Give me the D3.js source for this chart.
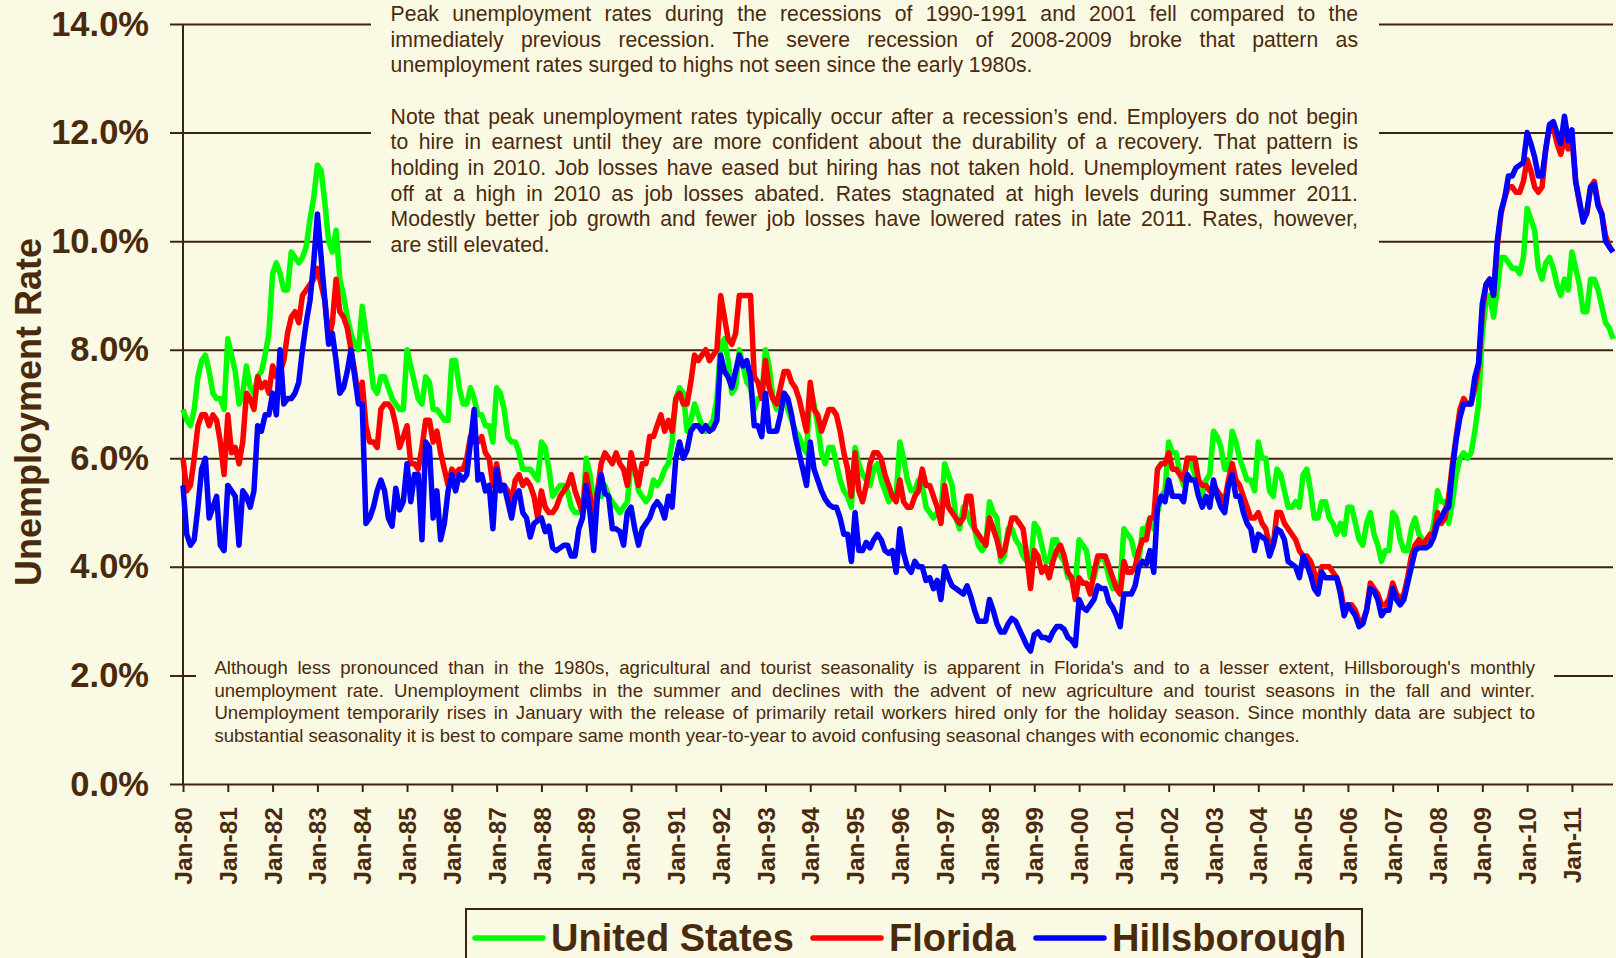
<!DOCTYPE html>
<html>
<head>
<meta charset="UTF-8">
<title>Unemployment Rate</title>
<script src="https://cdn.jsdelivr.net/npm/d3@7"></script>
<style>
	body { margin: 0; background: #FAF9E3; }
	svg { display: block; }
	text { font-family: "Liberation Sans", Arial, sans-serif; fill: #4A2A0C; }
</style>
</head>
<body>
<svg id="chart" width="1616" height="958"></svg>
<script>
var seriesNames = ["United States", "Florida", "Hillsborough"];
var seriesColors = ["#00FF00", "#FF0000", "#0000FF"];
var yTicks = [0, 2, 4, 6, 8, 10, 12, 14];
var tickLabels = ["Jan-80","Jan-81","Jan-82","Jan-83","Jan-84","Jan-85","Jan-86","Jan-87","Jan-88","Jan-89",
	"Jan-90","Jan-91","Jan-92","Jan-93","Jan-94","Jan-95","Jan-96","Jan-97","Jan-98","Jan-99",
	"Jan-00","Jan-01","Jan-02","Jan-03","Jan-04","Jan-05","Jan-06","Jan-07","Jan-08","Jan-09","Jan-10","Jan-11"];

// monthly rates, Jan-80 .. Dec-11, one row per year
var usRate = [
	6.9,6.7,6.6,6.9,7.5,7.8,7.9,7.6,7.2,7.1,7.1,6.9,
	8.2,7.9,7.6,7.0,7.2,7.7,7.3,7.2,7.5,7.6,7.9,8.3,
	9.4,9.6,9.4,9.1,9.1,9.8,9.7,9.6,9.7,9.9,10.4,10.8,
	11.4,11.3,10.7,10.0,9.8,10.2,9.3,9.0,8.6,8.3,8.1,8.0,
	8.8,8.3,7.9,7.3,7.2,7.5,7.5,7.3,7.1,7.0,6.9,6.9,
	8.0,7.7,7.4,7.1,7.0,7.5,7.4,6.9,6.9,6.8,6.7,6.7,
	7.8,7.8,7.3,7.0,7.0,7.3,7.1,6.8,6.8,6.6,6.6,6.3,
	7.3,7.2,6.9,6.4,6.3,6.3,6.1,5.8,5.8,5.8,5.7,5.6,
	6.3,6.2,5.8,5.3,5.4,5.5,5.5,5.4,5.1,5.0,5.0,5.0,
	6.0,5.7,5.2,5.3,5.3,5.5,5.3,5.2,5.1,5.0,5.1,5.2,
	5.9,5.8,5.4,5.3,5.2,5.3,5.6,5.5,5.6,5.8,5.9,6.3,
	7.1,7.3,7.2,6.5,6.7,7.0,6.8,6.6,6.5,6.6,6.7,7.1,
	8.1,8.2,7.8,7.2,7.3,8.0,7.7,7.4,7.3,6.9,7.1,7.1,
	8.0,7.7,7.1,6.9,6.9,7.1,6.9,6.7,6.5,6.4,6.2,6.1,
	7.3,7.0,6.6,6.1,5.9,6.2,6.2,5.9,5.6,5.4,5.3,5.1,
	6.2,5.9,5.7,5.6,5.5,5.8,5.9,5.6,5.4,5.2,5.3,5.3,
	6.3,6.0,5.6,5.4,5.4,5.6,5.5,5.1,5.0,4.9,5.0,5.0,
	5.9,5.7,5.5,4.9,4.7,5.1,5.0,4.8,4.7,4.4,4.3,4.4,
	5.2,5.0,4.9,4.1,4.2,4.7,4.7,4.5,4.4,4.2,4.1,4.0,
	4.8,4.7,4.4,4.1,4.1,4.5,4.5,4.2,4.1,3.8,3.8,3.7,
	4.5,4.4,4.3,3.8,3.8,4.1,4.2,4.1,3.8,3.6,3.7,3.7,
	4.7,4.6,4.5,4.2,4.1,4.7,4.7,4.9,4.7,5.0,5.3,5.4,
	6.3,6.1,6.1,5.7,5.5,6.0,5.9,5.7,5.4,5.3,5.6,5.7,
	6.5,6.4,6.2,5.8,5.8,6.5,6.3,6.0,5.8,5.6,5.6,5.4,
	6.3,6.0,6.0,5.4,5.3,5.8,5.7,5.4,5.1,5.1,5.2,5.1,
	5.7,5.8,5.4,4.9,4.9,5.2,5.2,4.9,4.8,4.6,4.8,4.6,
	5.1,5.1,4.8,4.5,4.4,4.8,5.0,4.6,4.4,4.1,4.3,4.3,
	5.0,4.9,4.5,4.3,4.3,4.7,4.9,4.6,4.5,4.4,4.5,4.8,
	5.4,5.2,5.2,4.8,5.2,5.7,6.0,6.1,6.0,6.1,6.5,7.0,
	8.3,8.9,9.0,8.6,9.1,9.7,9.7,9.6,9.5,9.5,9.4,9.7,
	10.6,10.4,10.2,9.5,9.3,9.6,9.7,9.5,9.2,9.0,9.3,9.1,
	9.8,9.5,9.2,8.7,8.7,9.3,9.3,9.1,8.8,8.5,8.4,8.2
];
var flRate = [
	6.0,5.4,5.5,6.0,6.6,6.8,6.8,6.6,6.8,6.7,6.3,5.7,
	6.8,6.1,6.2,5.9,6.3,7.2,7.1,6.9,7.5,7.3,7.4,7.2,
	7.7,7.5,7.6,7.8,8.3,8.6,8.7,8.5,9.0,9.1,9.2,9.3,
	9.5,9.2,8.9,8.2,8.5,9.3,8.7,8.6,8.4,8.0,7.6,7.1,
	7.4,6.6,6.3,6.3,6.2,6.9,7.0,7.0,6.9,6.6,6.2,6.4,
	6.6,5.9,5.9,5.8,6.2,6.7,6.7,6.3,6.5,6.1,5.8,5.5,
	5.8,5.7,5.8,5.8,6.0,6.4,6.3,6.3,6.4,6.1,6.0,5.5,
	5.9,5.5,5.5,5.4,5.2,5.6,5.7,5.5,5.6,5.5,5.3,4.9,
	5.4,5.1,5.0,5.0,5.1,5.3,5.4,5.5,5.7,5.4,5.2,5.0,
	5.7,5.3,4.9,5.4,5.9,6.1,6.0,5.9,6.1,5.9,5.8,5.5,
	6.1,5.8,5.5,5.9,5.9,6.4,6.4,6.6,6.8,6.5,6.7,6.5,
	7.1,7.2,7.0,7.0,7.4,7.9,7.8,7.9,8.0,7.8,7.9,8.0,
	9.0,8.6,8.2,8.1,8.3,9.0,9.0,9.0,9.0,7.5,7.4,7.1,
	7.8,7.3,7.1,7.0,7.3,7.6,7.6,7.4,7.3,7.1,6.8,6.5,
	7.4,6.9,6.8,6.5,6.7,6.9,6.9,6.8,6.5,6.1,5.8,5.3,
	6.1,5.4,5.2,5.5,5.9,6.1,6.1,6.0,5.7,5.5,5.3,5.2,
	5.6,5.2,5.1,5.1,5.3,5.4,5.8,5.5,5.5,5.3,5.1,4.8,
	5.5,5.1,5.0,4.9,4.8,4.9,5.3,5.3,4.7,4.6,4.5,4.4,
	4.9,4.7,4.5,4.2,4.3,4.6,4.9,4.9,4.8,4.7,4.2,3.6,
	4.3,4.2,3.9,4.0,3.8,4.1,4.3,4.4,4.2,3.9,3.8,3.4,
	3.8,3.7,3.7,3.5,3.9,4.2,4.2,4.2,4.0,3.8,3.6,3.5,
	4.1,3.9,3.9,4.0,4.3,4.5,4.5,4.9,4.9,5.8,5.9,5.9,
	6.1,5.8,5.8,5.7,5.6,6.0,6.0,6.0,5.6,5.5,5.5,5.4,
	5.5,5.4,5.3,5.2,5.6,5.9,5.6,5.5,5.3,5.1,4.9,4.9,
	5.0,4.8,4.7,4.4,4.4,5.0,5.0,4.8,4.7,4.6,4.5,4.3,
	4.2,4.2,4.1,3.9,3.7,4.0,4.0,4.0,3.9,3.8,3.6,3.2,
	3.3,3.3,3.2,3.0,3.0,3.2,3.7,3.6,3.5,3.3,3.3,3.4,
	3.7,3.5,3.4,3.5,3.8,4.2,4.4,4.5,4.4,4.5,4.6,4.6,
	5.0,4.8,4.9,5.3,5.9,6.4,6.9,7.1,7.0,7.0,7.3,7.7,
	8.7,9.2,9.3,9.0,9.9,10.5,10.8,11.0,11.0,10.9,10.9,11.1,
	11.5,11.3,11.0,10.9,11.0,11.7,12.1,12.1,11.8,11.6,11.9,11.7,
	11.9,11.1,10.7,10.4,10.5,11.0,11.1,10.7,10.5,10.1,9.9,9.8
];
var hillsRate = [
	5.5,4.6,4.4,4.5,5.1,5.8,6.0,4.9,5.1,5.3,4.4,4.3,
	5.5,5.4,5.3,4.4,5.4,5.3,5.1,5.4,6.6,6.5,6.8,6.8,
	7.2,6.8,8.0,7.0,7.1,7.1,7.2,7.4,8.0,8.5,8.9,9.6,
	10.5,9.7,8.9,8.1,8.3,7.8,7.2,7.3,7.6,8.0,7.5,7.0,
	7.0,4.8,4.9,5.1,5.4,5.6,5.4,4.9,4.75,5.45,5.05,5.2,
	5.9,5.2,5.7,5.7,4.5,6.3,6.2,4.9,5.4,4.5,4.8,5.4,
	5.7,5.4,5.7,5.6,5.7,6.3,6.9,5.6,5.7,5.4,5.5,4.7,
	5.8,5.4,5.5,5.2,4.9,5.3,5.4,5.0,4.9,4.55,4.8,4.85,
	4.9,4.65,4.75,4.35,4.3,4.35,4.4,4.4,4.2,4.2,4.7,4.9,
	5.5,5.0,4.3,5.3,5.7,5.35,5.3,4.7,4.7,4.65,4.4,5.0,
	5.1,4.7,4.4,4.7,4.8,4.9,5.1,5.2,5.1,4.9,5.3,5.1,
	6.0,6.3,6.0,6.15,6.5,6.6,6.6,6.5,6.6,6.5,6.55,6.7,
	7.9,7.6,7.5,7.3,7.6,7.9,7.7,7.8,7.5,6.6,6.6,6.4,
	7.2,6.5,6.5,6.5,6.8,7.2,7.1,6.8,6.4,6.1,5.8,5.5,
	6.3,5.8,5.6,5.4,5.25,5.15,5.1,5.1,4.9,4.6,4.6,4.1,
	5.0,4.3,4.3,4.45,4.35,4.5,4.6,4.5,4.3,4.25,4.3,3.9,
	4.7,4.25,4.0,3.9,4.1,4.0,4.0,3.75,3.8,3.6,3.75,3.4,
	4.0,3.8,3.65,3.6,3.55,3.5,3.65,3.45,3.2,3.0,3.0,3.0,
	3.4,3.2,2.95,2.8,2.8,2.95,3.05,3.0,2.85,2.7,2.55,2.45,
	2.75,2.8,2.7,2.7,2.65,2.8,2.9,2.9,2.85,2.7,2.65,2.55,
	3.4,3.25,3.2,3.3,3.4,3.65,3.6,3.6,3.35,3.25,3.1,2.9,
	3.5,3.5,3.5,3.65,4.0,4.1,4.05,4.3,3.9,5.1,5.3,5.2,
	5.6,5.3,5.3,5.3,5.2,5.7,5.6,5.6,5.3,5.1,5.3,5.1,
	5.6,5.3,5.1,5.0,5.5,5.7,5.3,5.3,5.0,4.8,4.7,4.3,
	4.6,4.55,4.5,4.2,4.4,4.7,4.65,4.5,4.1,4.05,4.0,3.8,
	4.2,4.05,3.85,3.6,3.5,3.9,3.8,3.8,3.8,3.8,3.5,3.1,
	3.3,3.2,3.1,2.9,2.95,3.2,3.6,3.55,3.4,3.1,3.2,3.2,
	3.6,3.4,3.3,3.4,3.7,4.0,4.3,4.35,4.35,4.35,4.4,4.55,
	4.8,4.9,5.05,5.1,5.8,6.35,6.75,7.0,7.0,7.0,7.5,7.75,
	8.85,9.2,9.3,9.0,10.0,10.55,10.8,11.2,11.2,11.35,11.4,11.45,
	12.0,11.8,11.55,11.2,11.2,11.7,12.15,12.2,12.0,11.8,12.3,11.85,
	12.05,11.1,10.75,10.35,10.55,11.0,11.05,10.65,10.5,10.0,9.9,9.8
];

var topText = [
	["Peak unemployment rates during the recessions of 1990-1991 and 2001 fell compared to the",
	 "immediately previous recession.  The severe recession of 2008-2009 broke that pattern as",
	 "unemployment rates surged to highs not seen since the early 1980s."],
	["Note that peak unemployment rates typically occur after a recession\u2019s end.  Employers do not begin",
	 "to hire in earnest until they are more confident about the durability of a recovery.  That pattern is",
	 "holding in 2010.  Job losses have eased but hiring has not taken hold.  Unemployment rates leveled",
	 "off at a high in 2010 as job losses abated. Rates stagnated at high levels during summer 2011.",
	 "Modestly better job growth and fewer job losses have lowered rates in late 2011.   Rates, however,",
	 "are still elevated."]
];
var bottomText = [
	["Although less pronounced than in the 1980s, agricultural and tourist seasonality is apparent in Florida's and to a lesser extent, Hillsborough's monthly",
	 "unemployment rate.  Unemployment climbs in the summer and declines with the advent of new agriculture and tourist seasons in the fall and winter.",
	 "Unemployment temporarily rises in January with the release of primarily retail workers hired only for the holiday season.  Since monthly data are subject to",
	 "substantial seasonality it is best to compare same month year-to-year to avoid confusing seasonal changes with economic changes."]
];

var bg = "#FAF9E3";
var ink = "#3E2410";
var svg = d3.select("#chart");
var plotLeft = 183, plotRight = 1613, plotTop = 24, plotBottom = 784;

var x = d3.scaleLinear().domain([0, usRate.length - 1]).range([plotLeft, plotRight]);
var y = d3.scaleLinear().domain([0, 14]).range([plotBottom, plotTop]);

// y axis with gridlines running right
var yAxis = svg.append("g")
	.attr("transform", "translate(" + plotLeft + ",0)")
	.call(d3.axisLeft(y).tickValues(yTicks).tickSize(-(plotRight - plotLeft)).tickPadding(34)
		.tickFormat(function (d) { return d.toFixed(1) + "%"; }));
yAxis.select(".domain").remove();
yAxis.selectAll(".tick line").attr("x1", -13).attr("stroke", ink).attr("stroke-width", 2);
yAxis.selectAll(".tick text").style("font-size", "34.5px").style("font-weight", "bold").attr("fill", "#4A2A0C");

svg.append("line").attr("x1", plotLeft).attr("x2", plotLeft).attr("y1", plotTop).attr("y2", plotBottom)
	.attr("stroke", ink).attr("stroke-width", 2);

// x axis, a tick every January
var xAxis = svg.append("g")
	.attr("transform", "translate(0," + plotBottom + ")")
	.call(d3.axisBottom(x).tickValues(d3.range(0, usRate.length, 12)).tickSize(8)
		.tickFormat(function (d) { return tickLabels[d / 12]; }));
xAxis.select(".domain").remove();
xAxis.selectAll(".tick line").attr("stroke", ink).attr("stroke-width", 2);
xAxis.selectAll(".tick text")
	.attr("transform", "rotate(-90)")
	.attr("x", -23).attr("y", 0).attr("dy", "0.35em")
	.style("text-anchor", "end")
	.style("font-size", "24.5px").style("font-weight", "bold").attr("fill", "#4A2A0C");

svg.append("text")
	.attr("transform", "translate(41,412) rotate(-90)")
	.style("text-anchor", "middle").style("font-size", "36px").style("font-weight", "bold")
	.text("Unemployment Rate");

// series
var line = d3.line()
	.x(function (d, i) { return x(i); })
	.y(function (d) { return y(d); });
[usRate, flRate, hillsRate].forEach(function (s, k) {
	svg.append("path").datum(s)
		.attr("d", line)
		.attr("fill", "none")
		.attr("stroke", seriesColors[k])
		.attr("stroke-width", 5.5)
		.attr("stroke-linejoin", "round");
});

// justified text blocks drawn over the grid
function textBlock(paras, x0, x1, firstBase, pitch, paraGap, size) {
	var g = svg.append("g").style("font-size", size + "px");
	var yy = firstBase;
	paras.forEach(function (lines) {
		lines.forEach(function (str, li) {
			var words = str.split(/\s+/);
			var t = g.append("text").attr("y", yy);
			if (li == lines.length - 1) {
				t.attr("x", x0).text(str);
			} else {
				var spans = words.map(function (w) { return t.append("tspan").text(w); });
				var widths = spans.map(function (s) { return s.node().getComputedTextLength(); });
				var gap = (x1 - x0 - d3.sum(widths)) / (words.length - 1);
				var cx = x0;
				spans.forEach(function (s, i) {
					s.attr("x", cx);
					cx += widths[i] + gap;
				});
			}
			yy += pitch;
		});
		yy += paraGap;
	});
}

svg.append("rect").attr("x", 371).attr("y", 0).attr("width", 1008).attr("height", 258).attr("fill", bg);
textBlock(topText, 390.6, 1358, 20.8, 25.7, 25.7, 21.2);

svg.append("rect").attr("x", 196).attr("y", 655).attr("width", 1358).attr("height", 95).attr("fill", bg);
textBlock(bottomText, 214.4, 1535, 674.3, 22.4, 0, 18.6);

// legend
var legend = svg.append("g");
legend.append("rect").attr("x", 466).attr("y", 909).attr("width", 896).attr("height", 90)
	.attr("fill", bg).attr("stroke", ink).attr("stroke-width", 2);
var legX = [475, 813, 1036];
seriesNames.forEach(function (name, k) {
	legend.append("line")
		.attr("x1", legX[k]).attr("x2", legX[k] + 68).attr("y1", 938).attr("y2", 938)
		.attr("stroke", seriesColors[k]).attr("stroke-width", 5.5).attr("stroke-linecap", "round");
	legend.append("text")
		.attr("x", legX[k] + 76).attr("y", 951)
		.style("font-size", "38px").style("font-weight", "bold")
		.text(name);
});
</script>
</body>
</html>
